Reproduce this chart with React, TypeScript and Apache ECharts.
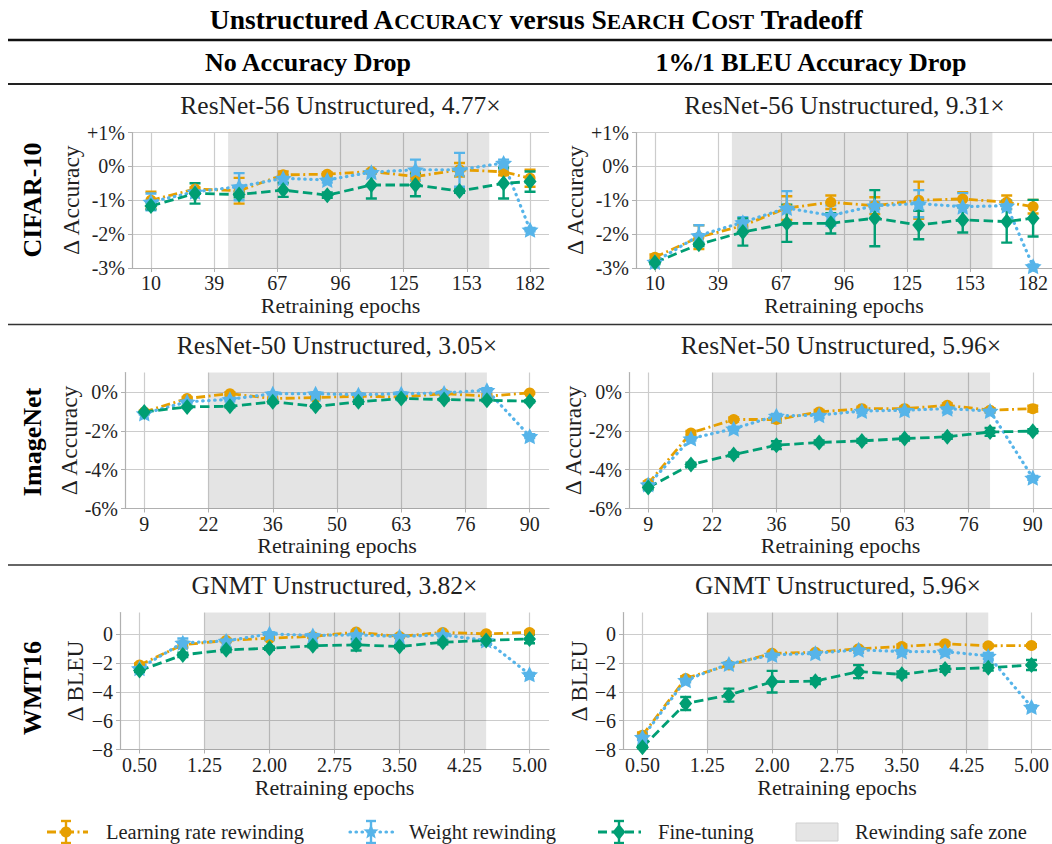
import React, { useEffect, useRef } from "react";
import * as echarts from "echarts";

const FONT = '"Liberation Serif", "Times New Roman", serif';
const TXT = "#1f1f1f";
const C_LRR = "#E69F00";
const C_WR = "#56B4E9";
const C_FT = "#009E73";

// ---------- x values ----------
const cifarEpochs = [10, 30, 50, 70, 90, 110, 130, 150, 170, 182];
const imagenetEpochs = [9, 18, 27, 36, 45, 54, 63, 72, 81, 90];
const wmtEpochs = [0.5, 1.0, 1.5, 2.0, 2.5, 3.0, 3.5, 4.0, 4.5, 5.0];

// ---------- tick values / labels ----------
const cifarTickValues = [10, 38.6667, 67.3333, 96, 124.6667, 153.3333, 182];
const cifarTickLabels = ["10", "39", "67", "96", "125", "153", "182"];
const imagenetTickValues = [9, 22.5, 36, 49.5, 63, 76.5, 90];
const imagenetTickLabels = ["9", "22", "36", "50", "63", "76", "90"];
const wmtTickValues = [0.5, 1.25, 2.0, 2.75, 3.5, 4.25, 5.0];
const wmtTickLabels = ["0.50", "1.25", "2.00", "2.75", "3.50", "4.25", "5.00"];

const cifarYTicks = [-3, -2, -1, 0, 1];
const cifarYLabels = ["-3%", "-2%", "-1%", "0%", "+1%"];
const imagenetYTicks = [-6, -4, -2, 0];
const imagenetYLabels = ["-6%", "-4%", "-2%", "0%"];
const wmtYTicks = [-8, -6, -4, -2, 0];
const wmtYLabels = ["\u22128", "\u22126", "\u22124", "\u22122", "0"];

const cifarYRange = [-3, 1];
const imagenetYRange = [-6, 1];
const wmtYRange = [-8, 1.5];

// ---------- rewinding safe zones ----------
const cifarSafeZone = [45, 163.5];
const imagenetSafeZone = [22.5, 81];
const wmtSafeZone = [1.25, 4.5];

// ---------- CIFAR-10, no accuracy drop (ResNet-56 4.77x) ----------
const c10NoDropLRR = [-1.0, -0.67, -0.72, -0.25, -0.23, -0.15, -0.3, -0.1, -0.16, -0.35];
const c10NoDropLRRErr = [0.25, 0.05, 0.38, 0.1, 0.05, 0.05, 0.12, 0.2, 0.1, 0.25];
const c10NoDropWR = [-1.05, -0.75, -0.6, -0.35, -0.4, -0.17, -0.1, -0.1, 0.1, -1.87];
const c10NoDropWRErr = [0.25, 0.05, 0.4, 0.1, 0.08, 0.05, 0.3, 0.5, 0.1, 0.05];
const c10NoDropFT = [-1.17, -0.8, -0.83, -0.7, -0.85, -0.55, -0.55, -0.73, -0.5, -0.45];
const c10NoDropFTErr = [0.1, 0.3, 0.08, 0.2, 0.08, 0.4, 0.33, 0.05, 0.45, 0.3];

// ---------- CIFAR-10, 1% drop (ResNet-56 9.31x) ----------
const c10DropLRR = [-2.68, -2.09, -1.75, -1.23, -1.06, -1.16, -1.0, -0.96, -1.06, -1.19];
const c10DropLRRErr = [0.08, 0.35, 0.1, 0.35, 0.2, 0.25, 0.55, 0.2, 0.2, 0.2];
const c10DropWR = [-2.82, -2.04, -1.65, -1.23, -1.45, -1.16, -1.1, -1.19, -1.16, -2.95];
const c10DropWRErr = [0.05, 0.3, 0.15, 0.5, 0.3, 0.1, 0.4, 0.4, 0.1, 0.05];
const c10DropFT = [-2.84, -2.3, -1.94, -1.68, -1.68, -1.53, -1.73, -1.58, -1.63, -1.53];
const c10DropFTErr = [0.05, 0.05, 0.4, 0.55, 0.3, 0.83, 0.42, 0.37, 0.62, 0.54];

// ---------- ImageNet, no accuracy drop (ResNet-50 3.05x) ----------
const inNoDropLRR = [-1.03, -0.34, -0.09, -0.34, -0.29, -0.22, -0.26, -0.09, -0.22, -0.05];
const inNoDropLRRErr = [0.05, 0.08, 0.08, 0.05, 0.05, 0.05, 0.05, 0.05, 0.1, 0.05];
const inNoDropWR = [-1.11, -0.51, -0.38, -0.09, -0.09, -0.14, -0.09, -0.05, 0.09, -2.28];
const inNoDropWRErr = [0.05, 0.08, 0.1, 0.05, 0.05, 0.05, 0.05, 0.05, 0.1, 0.1];
const inNoDropFT = [-1.03, -0.77, -0.74, -0.51, -0.74, -0.51, -0.34, -0.39, -0.43, -0.48];
const inNoDropFTErr = [0.05, 0.05, 0.05, 0.08, 0.05, 0.1, 0.05, 0.05, 0.05, 0.05];

// ---------- ImageNet, 1% drop (ResNet-50 5.96x) ----------
const inDropLRR = [-4.71, -2.11, -1.42, -1.42, -1.03, -0.86, -0.86, -0.69, -0.94, -0.86];
const inDropLRRErr = [0.1, 0.1, 0.1, 0.15, 0.1, 0.1, 0.1, 0.1, 0.1, 0.15];
const inDropWR = [-4.77, -2.4, -1.89, -1.23, -1.2, -0.98, -0.94, -0.86, -0.98, -4.42];
const inDropWRErr = [0.1, 0.1, 0.1, 0.1, 0.15, 0.1, 0.1, 0.2, 0.1, 0.1];
const inDropFT = [-4.92, -3.74, -3.22, -2.74, -2.6, -2.52, -2.4, -2.31, -2.06, -2.02];
const inDropFTErr = [0.1, 0.1, 0.1, 0.2, 0.1, 0.1, 0.1, 0.1, 0.2, 0.1];

// ---------- WMT16, no BLEU drop (GNMT 3.82x) ----------
const wmtNoDropLRR = [-2.14, -0.74, -0.44, -0.28, -0.16, 0.14, -0.16, 0.12, 0.02, 0.12];
const wmtNoDropLRRErr = [0.1, 0.2, 0.1, 0.1, 0.1, 0.1, 0.1, 0.1, 0.1, 0.1];
const wmtNoDropWR = [-2.37, -0.6, -0.47, 0.02, -0.09, -0.05, -0.16, -0.05, -0.44, -2.79];
const wmtNoDropWRErr = [0.1, 0.3, 0.1, 0.1, 0.1, 0.1, 0.1, 0.1, 0.1, 0.1];
const wmtNoDropFT = [-2.53, -1.44, -1.09, -0.98, -0.81, -0.74, -0.86, -0.56, -0.44, -0.33];
const wmtNoDropFTErr = [0.1, 0.15, 0.15, 0.1, 0.1, 0.4, 0.1, 0.15, 0.3, 0.3];

// ---------- WMT16, 1 BLEU drop (GNMT 5.96x) ----------
const wmtDropLRR = [-7.02, -3.07, -2.14, -1.33, -1.26, -1.02, -0.86, -0.67, -0.81, -0.79];
const wmtDropLRRErr = [0.2, 0.15, 0.1, 0.1, 0.1, 0.1, 0.15, 0.1, 0.1, 0.1];
const wmtDropWR = [-7.14, -3.19, -2.07, -1.44, -1.33, -1.09, -1.21, -1.21, -1.51, -5.05];
const wmtDropWRErr = [0.2, 0.15, 0.1, 0.15, 0.1, 0.2, 0.15, 0.15, 0.2, 0.1];
const wmtDropFT = [-7.84, -4.81, -4.23, -3.3, -3.26, -2.6, -2.79, -2.42, -2.33, -2.14];
const wmtDropFTErr = [0.1, 0.45, 0.45, 0.75, 0.2, 0.45, 0.2, 0.2, 0.2, 0.35];

const panelTitles = [
  "ResNet-56 Unstructured, 4.77\u00d7",
  "ResNet-56 Unstructured, 9.31\u00d7",
  "ResNet-50 Unstructured, 3.05\u00d7",
  "ResNet-50 Unstructured, 5.96\u00d7",
  "GNMT Unstructured, 3.82\u00d7",
  "GNMT Unstructured, 5.96\u00d7",
];
const columnHeaders = ["No Accuracy Drop", "1%/1 BLEU Accuracy Drop"];
const rowLabels = ["CIFAR-10", "ImageNet", "WMT16"];
const yNames = ["\u0394 Accuracy", "\u0394 Accuracy", "\u0394 BLEU"];
const legendNames = ["Learning rate rewinding", "Weight rewinding", "Fine-tuning", "Rewinding safe zone"];

// ---------- panel data definitions ----------
const panels = [
  { x: cifarEpochs, xt: cifarTickValues, xl: cifarTickLabels, yt: cifarYTicks, yl: cifarYLabels, yr: cifarYRange, zone: cifarSafeZone,
    lrr: c10NoDropLRR, lrrE: c10NoDropLRRErr, wr: c10NoDropWR, wrE: c10NoDropWRErr, ft: c10NoDropFT, ftE: c10NoDropFTErr, yName: yNames[0] },
  { x: cifarEpochs, xt: cifarTickValues, xl: cifarTickLabels, yt: cifarYTicks, yl: cifarYLabels, yr: cifarYRange, zone: cifarSafeZone,
    lrr: c10DropLRR, lrrE: c10DropLRRErr, wr: c10DropWR, wrE: c10DropWRErr, ft: c10DropFT, ftE: c10DropFTErr, yName: yNames[0] },
  { x: imagenetEpochs, xt: imagenetTickValues, xl: imagenetTickLabels, yt: imagenetYTicks, yl: imagenetYLabels, yr: imagenetYRange, zone: imagenetSafeZone,
    lrr: inNoDropLRR, lrrE: inNoDropLRRErr, wr: inNoDropWR, wrE: inNoDropWRErr, ft: inNoDropFT, ftE: inNoDropFTErr, yName: yNames[1] },
  { x: imagenetEpochs, xt: imagenetTickValues, xl: imagenetTickLabels, yt: imagenetYTicks, yl: imagenetYLabels, yr: imagenetYRange, zone: imagenetSafeZone,
    lrr: inDropLRR, lrrE: inDropLRRErr, wr: inDropWR, wrE: inDropWRErr, ft: inDropFT, ftE: inDropFTErr, yName: yNames[1] },
  { x: wmtEpochs, xt: wmtTickValues, xl: wmtTickLabels, yt: wmtYTicks, yl: wmtYLabels, yr: wmtYRange, zone: wmtSafeZone,
    lrr: wmtNoDropLRR, lrrE: wmtNoDropLRRErr, wr: wmtNoDropWR, wrE: wmtNoDropWRErr, ft: wmtNoDropFT, ftE: wmtNoDropFTErr, yName: yNames[2] },
  { x: wmtEpochs, xt: wmtTickValues, xl: wmtTickLabels, yt: wmtYTicks, yl: wmtYLabels, yr: wmtYRange, zone: wmtSafeZone,
    lrr: wmtDropLRR, lrrE: wmtDropLRRErr, wr: wmtDropWR, wrE: wmtDropWRErr, ft: wmtDropFT, ftE: wmtDropFTErr, yName: yNames[2] },
];

// ---------- layout (pixels) ----------
const layout = [
  { left: 132, top: 132.5, width: 417, height: 135.5, yGap: 43, xGap: 26 },
  { left: 636, top: 132.5, width: 417, height: 135.5, yGap: 44, xGap: 26 },
  { left: 125, top: 372.5, width: 424, height: 136, yGap: 36, xGap: 26 },
  { left: 629, top: 372.5, width: 424, height: 136, yGap: 37, xGap: 26 },
  { left: 120, top: 612.5, width: 429, height: 137, yGap: 33, xGap: 27 },
  { left: 623, top: 612.5, width: 430, height: 137, yGap: 32, xGap: 27 },
];

const STAR = "path://M0,-10L2.94,-4.05L9.51,-3.09L4.76,1.55L5.88,8.09L0,5L-5.88,8.09L-4.76,1.55L-9.51,-3.09L-2.94,-4.05Z";
const DIAMOND = "path://M0,-10L8,0L0,10L-8,0Z";

const methods = [
  { key: "lrr", color: C_LRR, symbol: "circle", size: 11, dash: [9, 3.5, 2, 3.5], cap: "butt", width: 2.8 },
  { key: "wr", color: C_WR, symbol: STAR, size: [17, 16], dash: [0.5, 5.5], cap: "round", width: 3.2 },
  { key: "ft", color: C_FT, symbol: DIAMOND, size: [13, 16], dash: [9.5, 4.5], cap: "butt", width: 2.8 },
];

function zip(xs: number[], ys: number[]) {
  return xs.map((x, i) => [x, ys[i]]);
}
function errData(xs: number[], ys: number[], es: number[]) {
  return xs.map((x, i) => [x, ys[i] - es[i], ys[i] + es[i]]);
}
function lookup(values: number[], labels: string[]) {
  return (v: number) => {
    const i = values.findIndex((t) => Math.abs(t - v) < 1e-3);
    return i >= 0 ? labels[i] : "";
  };
}
function errRender(color: string) {
  return (params: any, api: any) => {
    const x = api.value(0);
    const lo = api.value(1);
    const hi = api.value(2);
    const a = api.coord([x, lo]);
    const b = api.coord([x, hi]);
    const cw = 5.5;
    const style = { stroke: color, lineWidth: 2.4, fill: null };
    return {
      type: "group",
      children: [
        { type: "line", shape: { x1: a[0], y1: a[1], x2: b[0], y2: b[1] }, style },
        { type: "line", shape: { x1: a[0] - cw, y1: a[1], x2: a[0] + cw, y2: a[1] }, style },
        { type: "line", shape: { x1: b[0] - cw, y1: b[1], x2: b[0] + cw, y2: b[1] }, style },
      ],
    };
  };
}
function starPoints(cx: number, cy: number, R: number, r: number) {
  const pts: number[][] = [];
  for (let i = 0; i < 10; i++) {
    const ang = -Math.PI / 2 + (i * Math.PI) / 5;
    const rad = i % 2 === 0 ? R : r;
    pts.push([cx + rad * Math.cos(ang), cy + rad * Math.sin(ang)]);
  }
  return pts;
}

function buildOption() {
  const grid: any[] = [];
  const xAxis: any[] = [];
  const yAxis: any[] = [];
  const series: any[] = [];
  const titles: any[] = [];

  titles.push({
    text: "{b|Unstructured A}{s|CCURACY}{b| versus S}{s|EARCH}{b| C}{s|OST}{b| Tradeoff}",
    left: 536,
    textAlign: "center",
    top: 3,
    padding: 0,
    textStyle: {
      rich: {
        b: { fontFamily: FONT, fontWeight: "bold", fontSize: 27.5, color: "#000", lineHeight: 30, verticalAlign: "bottom" },
        s: { fontFamily: FONT, fontWeight: "bold", fontSize: 21.5, color: "#000", lineHeight: 30, verticalAlign: "bottom" },
      },
    },
  });

  panels.forEach((p, i) => {
    const L = layout[i];
    const xmin = p.x[0] - 0.05 * (p.x[p.x.length - 1] - p.x[0]);
    const xmax = p.x[p.x.length - 1] + 0.05 * (p.x[p.x.length - 1] - p.x[0]);
    grid.push({ left: L.left, top: L.top, width: L.width, height: L.height, containLabel: false });
    titles.push({
      text: panelTitles[i],
      left: L.left + L.width / 2,
      top: L.top - 40,
      padding: 0,
      textAlign: "center",
      textStyle: { fontFamily: FONT, fontWeight: "normal", fontSize: 25.5, color: TXT },
    });
    xAxis.push({
      type: "value",
      gridIndex: i,
      min: xmin,
      max: xmax,
      name: "Retraining epochs",
      nameLocation: "middle",
      nameGap: L.xGap,
      nameTextStyle: { fontFamily: FONT, fontSize: 22, color: TXT },
      axisLine: { show: true, onZero: false, lineStyle: { color: "#b0b0b0", width: 1.2 } },
      axisTick: { show: true, length: 4, customValues: p.xt, lineStyle: { color: "#b0b0b0", width: 1 } },
      axisLabel: { customValues: p.xt, formatter: lookup(p.xt, p.xl), fontFamily: FONT, fontSize: 20, color: TXT, margin: 5 },
      splitLine: { show: true, lineStyle: { color: "#cccccc", width: 1.2 } },
    });
    yAxis.push({
      type: "value",
      gridIndex: i,
      min: p.yr[0],
      max: p.yr[1],
      name: p.yName,
      nameLocation: "middle",
      nameGap: L.yGap,
      nameRotate: 90,
      nameTextStyle: { fontFamily: FONT, fontSize: 23.5, color: TXT },
      axisLine: { show: true, onZero: false, lineStyle: { color: "#b0b0b0", width: 1.2 } },
      axisTick: { show: true, length: 4, customValues: p.yt, lineStyle: { color: "#b0b0b0", width: 1 } },
      axisLabel: { customValues: p.yt, formatter: lookup(p.yt, p.yl), fontFamily: FONT, fontSize: 20, color: TXT, margin: 7 },
      splitLine: { show: true, lineStyle: { color: "#cccccc", width: 1.2 } },
    });
    // shaded safe zone
    series.push({
      type: "line",
      xAxisIndex: i,
      yAxisIndex: i,
      data: [],
      silent: true,
      z: 1,
      markArea: {
        silent: true,
        itemStyle: { color: "rgba(0,0,0,0.105)" },
        data: [[{ xAxis: p.zone[0] }, { xAxis: p.zone[1] }]],
      },
    });
    methods.forEach((m) => {
      const ys = (p as any)[m.key] as number[];
      const es = (p as any)[m.key + "E"] as number[];
      series.push({
        type: "custom",
        xAxisIndex: i,
        yAxisIndex: i,
        data: errData(p.x, ys, es),
        encode: { x: 0, y: [1, 2] },
        renderItem: errRender(m.color),
        clip: true,
        silent: true,
      });
      series.push({
        type: "line",
        xAxisIndex: i,
        yAxisIndex: i,
        data: zip(p.x, ys),
        symbol: m.symbol,
        symbolSize: m.size,
        showSymbol: true,
        showAllSymbol: true,
        clip: true,
        silent: true,
        lineStyle: { color: m.color, width: m.width, type: m.dash, cap: m.cap },
        itemStyle: { color: m.color, borderWidth: 0 },
      });
    });
  });

  // ---------- graphic: rules, headers, row labels, legend ----------
  const graphic: any[] = [];
  const rule = (y: number, w: number, c: string) => ({
    type: "line",
    shape: { x1: 8, y1: y, x2: 1052, y2: y },
    style: { stroke: c, lineWidth: w },
    silent: true,
  });
  graphic.push(rule(40, 2.5, "#111"));
  graphic.push(rule(84, 2, "#222"));
  graphic.push(rule(324.5, 1.3, "#333"));
  graphic.push(rule(565, 1.3, "#333"));

  const headerX = [308, 811];
  columnHeaders.forEach((h, i) => {
    graphic.push({
      type: "text",
      x: headerX[i],
      y: 62,
      style: { text: h, fontFamily: FONT, fontWeight: "bold", fontSize: 26, fill: "#000", textAlign: "center", textVerticalAlign: "middle" },
      silent: true,
    });
  });
  const rowY = [200, 442, 688];
  rowLabels.forEach((r, i) => {
    graphic.push({
      type: "text",
      x: 32,
      y: rowY[i],
      rotation: Math.PI / 2,
      style: { text: r, fontFamily: FONT, fontWeight: "bold", fontSize: 26, fill: "#000", textAlign: "center", textVerticalAlign: "middle" },
      silent: true,
    });
  });

  // legend
  const LY = 832;
  const legItems = [
    { x0: 47, x1: 88, cx: 66, color: C_LRR, dash: [9, 3.5, 2, 3.5], cap: "butt", lw: 2.8, marker: "circle", tx: 106 },
    { x0: 350, x1: 393, cx: 371, color: C_WR, dash: [0.5, 5.5], cap: "round", lw: 3.2, marker: "star", tx: 409 },
    { x0: 598, x1: 641, cx: 619, color: C_FT, dash: [9, 4.5], cap: "butt", lw: 2.8, marker: "diamond", tx: 658 },
  ];
  legItems.forEach((it, i) => {
    const st = { stroke: it.color, lineWidth: 2.4, fill: null };
    graphic.push({ type: "line", shape: { x1: it.x0, y1: LY, x2: it.x1, y2: LY }, style: { stroke: it.color, lineWidth: it.lw, lineDash: it.dash, lineCap: it.cap }, silent: true });
    graphic.push({ type: "line", shape: { x1: it.cx, y1: LY - 11, x2: it.cx, y2: LY + 11 }, style: st, silent: true });
    graphic.push({ type: "line", shape: { x1: it.cx - 5, y1: LY - 11, x2: it.cx + 5, y2: LY - 11 }, style: st, silent: true });
    graphic.push({ type: "line", shape: { x1: it.cx - 5, y1: LY + 11, x2: it.cx + 5, y2: LY + 11 }, style: st, silent: true });
    if (it.marker === "circle") {
      graphic.push({ type: "circle", shape: { cx: it.cx, cy: LY, r: 5.5 }, style: { fill: it.color }, silent: true });
    } else if (it.marker === "star") {
      graphic.push({ type: "polygon", shape: { points: starPoints(it.cx, LY, 8, 3.5) }, style: { fill: it.color }, silent: true });
    } else {
      graphic.push({ type: "polygon", shape: { points: [[it.cx, LY - 8], [it.cx + 6.5, LY], [it.cx, LY + 8], [it.cx - 6.5, LY]] }, style: { fill: it.color }, silent: true });
    }
    graphic.push({
      type: "text",
      x: it.tx,
      y: LY,
      style: { text: legendNames[i], fontFamily: FONT, fontSize: 20.5, fill: TXT, textAlign: "left", textVerticalAlign: "middle" },
      silent: true,
    });
  });
  graphic.push({ type: "rect", shape: { x: 796, y: 823, width: 42, height: 18 }, style: { fill: "#e5e5e5", stroke: "#cfcfcf", lineWidth: 1 }, silent: true });
  graphic.push({
    type: "text",
    x: 855,
    y: LY,
    style: { text: legendNames[3], fontFamily: FONT, fontSize: 20.5, fill: TXT, textAlign: "left", textVerticalAlign: "middle" },
    silent: true,
  });

  return {
    animation: false,
    backgroundColor: "#ffffff",
    title: titles,
    grid,
    xAxis,
    yAxis,
    series,
    graphic,
  };
}

export default function App() {
  const ref = useRef<HTMLDivElement>(null);
  useEffect(() => {
    if (!ref.current) return;
    const chart = echarts.init(ref.current, undefined, { renderer: "svg" });
    chart.setOption(buildOption() as any);
    return () => {
      chart.dispose();
    };
  }, []);
  return (
    <div
      ref={ref}
      style={{ position: "absolute", left: 0, top: 0, width: 1052, height: 844, background: "#fff" }}
    />
  );
}
